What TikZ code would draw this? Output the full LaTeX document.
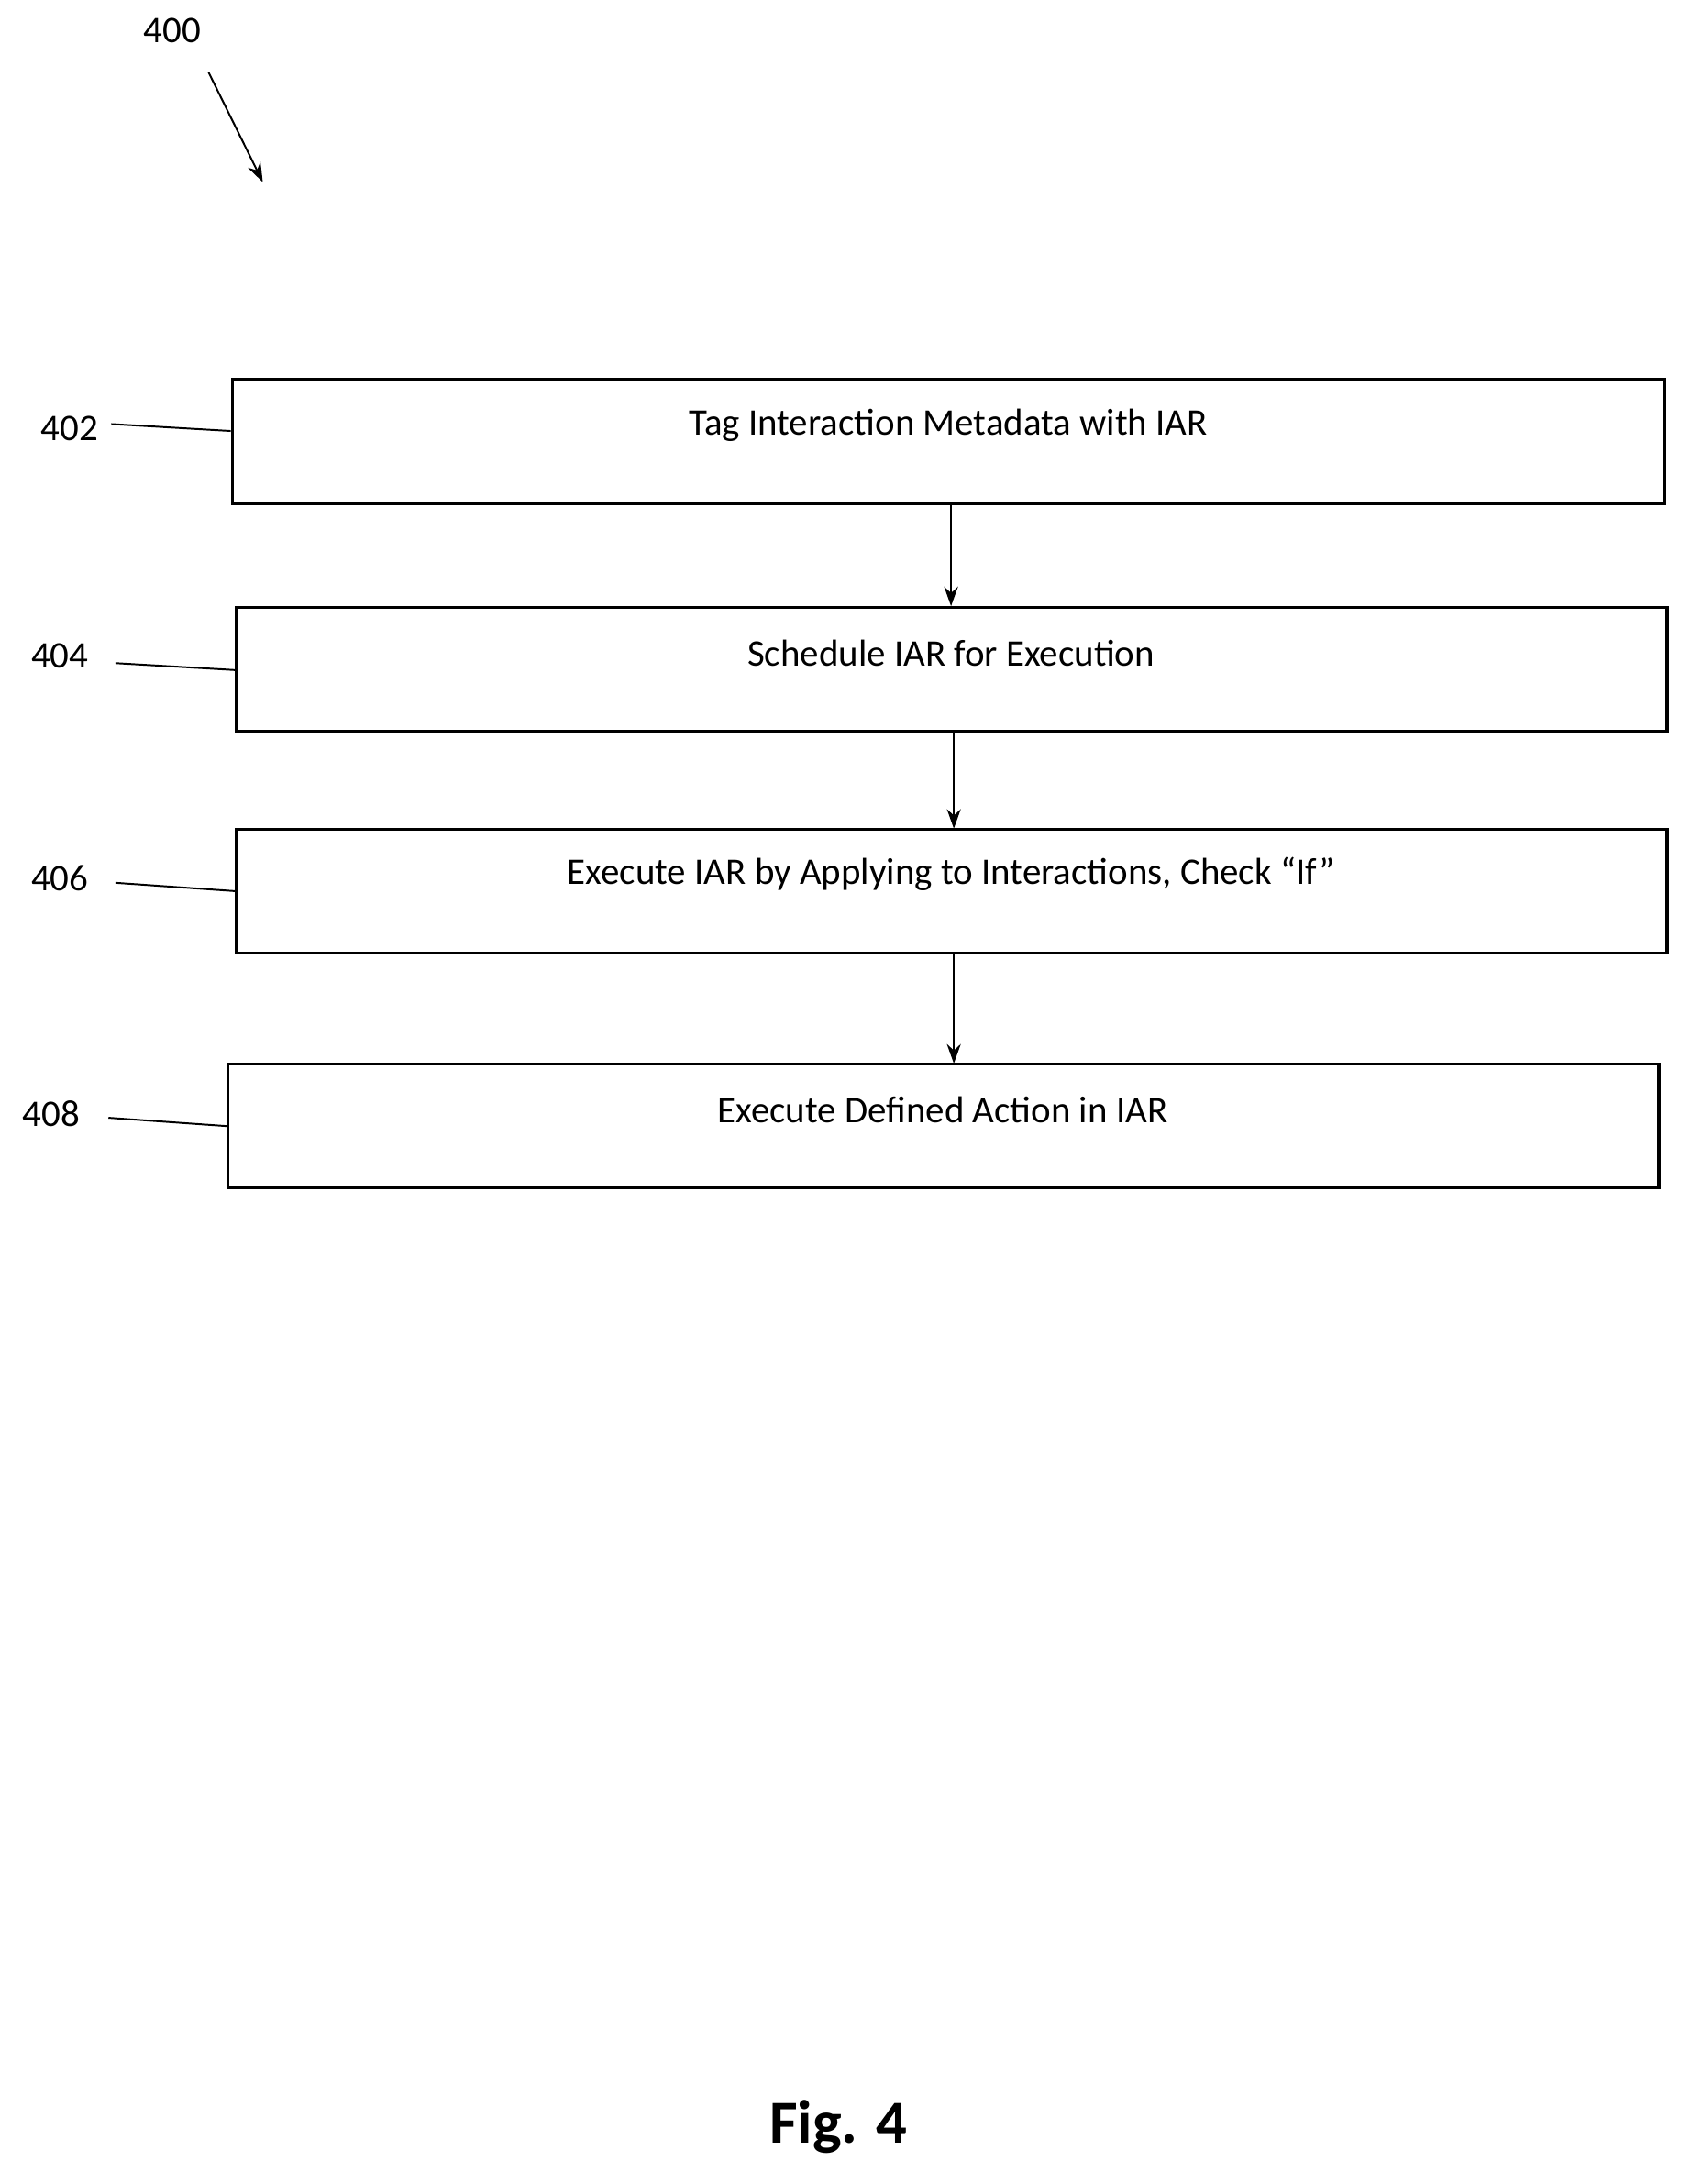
\documentclass[tikz,border=0pt]{standalone}
\usepackage{fontspec}
\setmainfont{Carlito}
\usetikzlibrary{arrows.meta}
\begin{document}
\begin{tikzpicture}[x=1pt,y=-1pt,
  box/.style={draw,line width=2.2pt,minimum height=89pt,inner sep=0pt},
  txt/.style={font=\fontsize{27}{30}\selectfont},
  lbl/.style={font=\fontsize{27}{30}\selectfont,inner sep=1pt},
  lead/.style={line width=1.3pt},
  arr/.style={line width=1.3pt,-{Stealth[length=14pt,width=10pt]}}]
\useasboundingbox (0,0) rectangle (1216,1571);
\node[box,minimum width=1030pt] (b1) at (682,317.5) {};
\node[box,minimum width=1029pt] (b2) at (684.5,481.5) {};
\node[box,minimum width=1029pt] (b3) at (684.5,641) {};
\node[box,minimum width=1029pt] (b4) at (678.5,810) {};
\node[txt] (t1) at (682,306) {Tag Interaction Metadata with IAR};
\node[txt] (t2) at (684,470) {Schedule IAR for Execution};
\node[txt] (t3) at (684,629) {Execute IAR by Applying to Interactions, Check “If”};
\node[txt] (t4) at (678,798) {Execute Defined Action in IAR};
\coordinate (a1) at (684,362); \coordinate (a1e) at (684,436);
\coordinate (a2) at (686,526); \coordinate (a2e) at (686,596);
\coordinate (a3) at (686,685); \coordinate (a3e) at (686,765);
\draw[arr] (a1) -- (a1e);
\draw[arr] (a2) -- (a2e);
\draw[arr] (a3) -- (a3e);
\node[lbl] (l1) at (50,308) {402};
\node[lbl] (l2) at (43,472) {404};
\node[lbl] (l3) at (43,632) {406};
\node[lbl] (l4) at (37,801) {408};
\draw[lead] (80,305) -- (b1.west |- 0,310);
\draw[lead] (83,477) -- (b2.west |- 0,482);
\draw[lead] (83,635) -- (b3.west |- 0,641);
\draw[lead] (78,804) -- (b4.west |- 0,810);
\node[lbl] (l0) at (124,22) {400};
\coordinate (p0) at (150,52); \coordinate (p1) at (189,131);
\draw[arr] (p0) -- (p1);
\node[font=\bfseries\fontsize{44}{48}\selectfont] (fig) at (603,1530) {Fig. 4};
\end{tikzpicture}
\end{document}
